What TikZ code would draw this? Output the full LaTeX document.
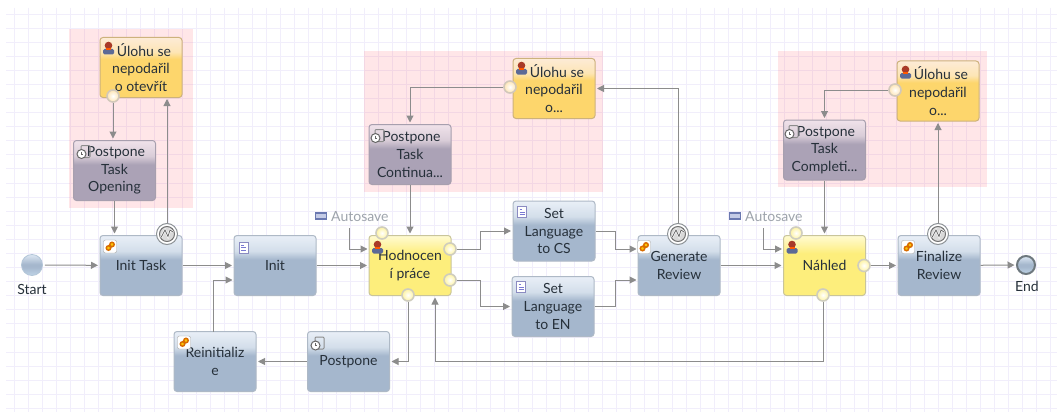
\documentclass[tikz,border=0pt]{standalone}
\usepackage{fontspec}
\setmainfont{Lato}
\usetikzlibrary{arrows.meta}

\definecolor{gridline}{HTML}{F1EEFB}
\definecolor{zonepink}{HTML}{FF6B78}
\definecolor{flowgray}{HTML}{8C8C8C}
\definecolor{autogray}{HTML}{9EA4AC}
\definecolor{textdark}{HTML}{26303A}
\definecolor{b1}{HTML}{A5B7CD}
\definecolor{b2}{HTML}{D3DEEA}
\definecolor{b3}{HTML}{E9EFF7}
\definecolor{m1}{HTML}{ABA2B6}
\definecolor{m2}{HTML}{D9CDD8}
\definecolor{m3}{HTML}{F0E2EA}
\definecolor{y1}{HTML}{FDEE7C}
\definecolor{y2}{HTML}{FEF3A0}
\definecolor{y3}{HTML}{FFFBD2}
\definecolor{o1}{HTML}{FDD66C}
\definecolor{o2}{HTML}{FDE5B5}
\definecolor{o3}{HTML}{FDEBD6}
\definecolor{c1}{HTML}{BFD4E6}
\definecolor{c2}{HTML}{DDE8F3}
\definecolor{blueedge}{HTML}{AEB9C6}
\definecolor{mauveedge}{HTML}{A79FAE}
\definecolor{yellowedge}{HTML}{C9C59A}
\definecolor{orangeedge}{HTML}{CDB27C}
\definecolor{yellowring}{HTML}{CFCDBE}
\definecolor{orangering}{HTML}{D2C8BA}
\definecolor{startedge}{HTML}{B3C6D8}
\definecolor{endedge}{HTML}{6E787E}
\definecolor{eventedge}{HTML}{8D9296}
\definecolor{personbody}{HTML}{5C6A96}
\definecolor{personhead}{HTML}{A83A28}
\definecolor{screenedge}{HTML}{6A78B0}
\definecolor{screenfill}{HTML}{C4CBE6}

% Vertical fills of the activities: pale cap, then a flat body
\pgfdeclareverticalshading{bluefill}{100bp}{color(0bp)=(b1); color(25bp)=(b1); color(55bp)=(b1); color(62bp)=(b2); color(75bp)=(b3); color(100bp)=(b3)}
\pgfdeclareverticalshading{mauvefill}{100bp}{color(0bp)=(m1); color(25bp)=(m1); color(55bp)=(m1); color(62bp)=(m2); color(75bp)=(m3); color(100bp)=(m3)}
\pgfdeclareverticalshading{yellowfill}{100bp}{color(0bp)=(y1); color(25bp)=(y1); color(60bp)=(y1); color(66bp)=(y2); color(75bp)=(y3); color(100bp)=(y3)}
\pgfdeclareverticalshading{orangefill}{100bp}{color(0bp)=(o1); color(25bp)=(o1); color(57bp)=(o1); color(63bp)=(o2); color(75bp)=(o3); color(100bp)=(o3)}
\pgfdeclareverticalshading{ballfill}{100bp}{color(0bp)=(c1); color(25bp)=(c1); color(45bp)=(b1); color(52bp)=(b1); color(75bp)=(c2); color(100bp)=(c2)}

\tikzset{
  task/.style={draw=#1, line width=1pt, rounded corners=3pt, minimum width=82pt, minimum height=60pt,
    inner sep=0pt, align=center, text=textdark, font=\fontsize{14}{17.7}\selectfont},
  bluetask/.style={task=blueedge, shading=bluefill},
  mauvetask/.style={task=mauveedge, shading=mauvefill},
  yellowtask/.style={task=yellowedge, shading=yellowfill},
  orangetask/.style={task=orangeedge, shading=orangefill},
  port/.style={circle, draw=#1, line width=1.6pt, minimum size=12pt, inner sep=0pt, inner color=white},
  yellowport/.style={port=yellowring, outer color=y2},
  orangeport/.style={port=orangering, outer color=o2},
  startball/.style={circle, draw=startedge, line width=.8pt, minimum size=21pt, inner sep=0pt, shading=ballfill},
  endball/.style={circle, draw=endedge, line width=2pt, minimum size=18pt, inner sep=0pt, shading=ballfill},
  eventmark/.style={circle, draw=eventedge, line width=1pt, fill=white, minimum size=21pt, inner sep=0pt},
  flow/.style={draw=flowgray, line width=1pt, ->, shorten >=1.5pt},
  caption/.style={text=textdark, font=\fontsize{14}{16}\selectfont, inner sep=0pt},
  autolabel/.style={text=autogray, font=\fontsize{14}{16}\selectfont, inner sep=0pt},
  >={Stealth[inset=0pt, length=7pt, width=7pt]}
}

% Small pictograms, placed by their centre
\newcommand{\personicon}[1]{
  \begin{scope}[shift={(#1)}]
    \fill[rounded corners=1.5pt, fill=personbody] (-5.5,6.5) rectangle (5.5,1);
    \fill[fill=personhead] (0,-2.5) circle (3.8pt);
    \fill[fill=orange!70!red] (-2.5,0) rectangle (2.5,2);
  \end{scope}}
\newcommand{\gearicon}[1]{
  \begin{scope}[shift={(#1)}]
    \draw[draw=black!35, fill=white, rounded corners=2pt] (-6.5,-6.5) rectangle (6.5,6.5);
    \draw[draw=orange!85!black, fill=yellow!60!orange, line width=1.5pt] (-1.5,1.5) circle (2.2pt) (2,-2) circle (2.2pt);
  \end{scope}}
\newcommand{\pageicon}[1]{
  \begin{scope}[shift={(#1)}]
    \draw[draw=blue!30!gray!70, fill=white] (-4.5,-5.5) rectangle (4.5,5.5);
    \draw[draw=blue!50!gray!70, line width=.7pt] (-2.5,-2.5) -- (0,-2.5) (-2.5,0) -- (2.5,0) (-2.5,2.5) -- (2.5,2.5);
  \end{scope}}
\newcommand{\clockicon}[1]{
  \begin{scope}[shift={(#1)}]
    \draw[draw=black!45, line width=1pt, rounded corners=1pt] (-3,-6.5) rectangle (6,5.5);
    \draw[draw=black!60, fill=white, line width=1pt] (-2.5,2) circle (4.5pt);
    \draw[draw=black!60, line width=.7pt] (-2.5,-.5) -- (-2.5,2) -- (-.6,2);
  \end{scope}}
\newcommand{\screenicon}[1]{
  \begin{scope}[shift={(#1)}]
    \draw[draw=screenedge, fill=screenfill, line width=1.2pt] (-5.5,-3) rectangle (5.5,3);
  \end{scope}}
\newcommand{\zigzag}[1]{
  \begin{scope}[shift={(#1)}]
    \draw[draw=black!55, line width=1pt, fill=black!15] (0,0) circle (7.5pt);
    \draw[draw=white, line width=2pt] (-6,3.5) -- (-2,-4) -- (1,2.5) -- (3,-4) -- (6,-2);
    \draw[draw=black!60, line width=.8pt] (-6,3.5) -- (-2,-4) -- (1,2.5) -- (3,-4) -- (6,-2);
  \end{scope}}

\begin{document}
\begin{tikzpicture}[x=1pt, y=-1pt]
    \useasboundingbox (0,0) rectangle (1057,412);

    % Podklad
    \fill[white] (0,0) rectangle (1057,412);
    \foreach \gx in {1,...,75}
        \draw[gridline, line width=1pt] (14*\gx,8) -- (14*\gx,412);
    \foreach \gy in {1,...,29}
        \draw[gridline, line width=1pt] (6,14.08*\gy) -- (1057,14.08*\gy);

    % Zony chyb
    \fill[zonepink, opacity=.17] (69,29) rectangle (193,208);
    \fill[zonepink, opacity=.17] (364,51) rectangle (603,192);
    \fill[zonepink, opacity=.17] (778,51) rectangle (987,187);

    % Aktivity
    \node[startball] (start) at (32,265) {};
    \node[endball] (end) at (1026,265) {};
    \node[bluetask] (inittask) at (141,265.5) {Init Task};
    \node[bluetask] (init) at (275,265.5) {Init};
    \node[bluetask] (reinit) at (215,361.5) {Reinitializ\\e};
    \node[bluetask] (postpone) at (348.5,361.5) {Postpone};
    \node[yellowtask] (hodnoceni) at (410,265.5) {Hodnocen\\í práce};
    \node[bluetask] (setcs) at (554,231) {Set\\Language\\to CS};
    \node[bluetask] (seten) at (553,306.5) {Set\\Language\\to EN};
    \node[bluetask] (generate) at (679,265.5) {Generate\\Review};
    \node[yellowtask] (nahled) at (824.5,265.5) {Náhled};
    \node[bluetask] (finalize) at (939,265.5) {Finalize\\Review};
    \node[orangetask] (ulohaa) at (141,67.5) {\hspace*{6pt}Úlohu se\\nepodařil\\o otevřít};
    \node[orangetask] (ulohab) at (554,88.5) {\hspace*{6pt}Úlohu se\\nepodařil\\o...};
    \node[orangetask] (ulohac) at (938,91) {\hspace*{6pt}Úlohu se\\nepodařil\\o...};
    \node[mauvetask] (opening) at (114.5,170.5) {\hspace*{3pt}Postpone\\Task\\Opening};
    \node[mauvetask] (continua) at (410,154.5) {\hspace*{3pt}Postpone\\Task\\Continua...};
    \node[mauvetask] (completi) at (824.5,150) {\hspace*{3pt}Postpone\\Task\\Completi...};

    % Popisky
    \node[caption] (startlabel) at (32,289) {Start};
    \node[caption] (endlabel) at (1027,286) {End};
    \node[autolabel, anchor=west] (autoa) at (331,217) {Autosave};
    \node[autolabel, anchor=west] (autob) at (745,217) {Autosave};

    % Ikony
    \gearicon{110,246.5}
    \gearicon{644,247}
    \gearicon{908,247}
    \gearicon{184,342.5}
    \pageicon{243.5,247.5}
    \pageicon{522,212}
    \pageicon{521,287}
    \clockicon{318,343.5}
    \clockicon{84,152}
    \clockicon{378,136}
    \clockicon{792,132}
    \personicon{108.5,48}
    \personicon{521.5,68}
    \personicon{905.5,72}
    \personicon{377.5,247}
    \personicon{792,247}
    \screenicon{321,216}
    \screenicon{735,216}

    % Body napojeni
    \coordinate (autoaout) at (349,228);
    \coordinate (autobout) at (763,228);
    \coordinate (reinitout) at (213,331.5);
    \coordinate (initin) at (234,280);
    \coordinate (hodin) at (369,249);
    \coordinate (hodback) at (435,296);
    \coordinate (genina) at (638,249);
    \coordinate (geninb) at (638,280);
    \coordinate (nahin) at (783.5,249);
    \coordinate (ulohaain) at (167,97.5);

    % Pasky na prechodech
    \node[yellowport] (hodtop) at (382,233) {};
    \node[yellowport] (hodcs) at (450,249) {};
    \node[yellowport] (hoden) at (450,280) {};
    \node[yellowport] (hodbottom) at (408,295) {};
    \node[yellowport] (nahtop) at (796,233) {};
    \node[yellowport] (nahright) at (864,265.5) {};
    \node[yellowport] (nahbottom) at (823,295) {};
    \node[orangeport] (ulohaaport) at (113,96) {};
    \node[orangeport] (ulohabport) at (510,87) {};
    \node[orangeport] (ulohacport) at (895,90) {};

    % Prerusovaci udalosti
    \node[eventmark] (evinit) at (167,234) {};
    \node[eventmark] (evgen) at (678,234) {};
    \node[eventmark] (evfin) at (938,234) {};
    \zigzag{167,234}
    \zigzag{678,234}
    \zigzag{938,234}

    % Hlavni tok
    \draw[flow, shorten <=2pt] (start) -- (inittask);
    \draw[flow] (inittask) -- (init);
    \draw[flow] (init) -- (hodnoceni);
    \draw[flow] (generate) -- (nahled);
    \draw[flow] (nahright) -- (finalize);
    \draw[flow] (finalize) -- (end);

    % Vetve
    \draw[flow] (hodcs) -- ++(30,0) |- (setcs);
    \draw[flow] (hoden) -- ++(30,0) |- (seten);
    \draw[flow] (setcs) -- ++(61,0) |- (genina);
    \draw[flow] (seten) -- ++(62,0) |- (geninb);
    \draw[flow] (hodbottom) |- (postpone);
    \draw[flow] (postpone) -- (reinit);
    \draw[flow] (reinitout) |- (initin);
    \draw[flow] (nahbottom) -- ++(0,66) -| (hodback);

    % Automaticke ulozeni
    \draw[flow] (autoaout) |- (hodin);
    \draw[flow] (autobout) |- (nahin);

    % Odklady
    \draw[flow] (ulohaaport) -- (opening.north -| ulohaaport);
    \draw[flow] (opening) -- (inittask.north -| opening);
    \draw[flow] (evinit) -- (ulohaain);
    \draw[flow] (evgen) |- (ulohab);
    \draw[flow] (ulohabport) -| (continua);
    \draw[flow] (continua) -- (hodnoceni.north -| continua);
    \draw[flow] (evfin) -- (ulohac);
    \draw[flow] (ulohacport) -| (completi);
    \draw[flow] (completi) -- (nahled);
\end{tikzpicture}
\end{document}
